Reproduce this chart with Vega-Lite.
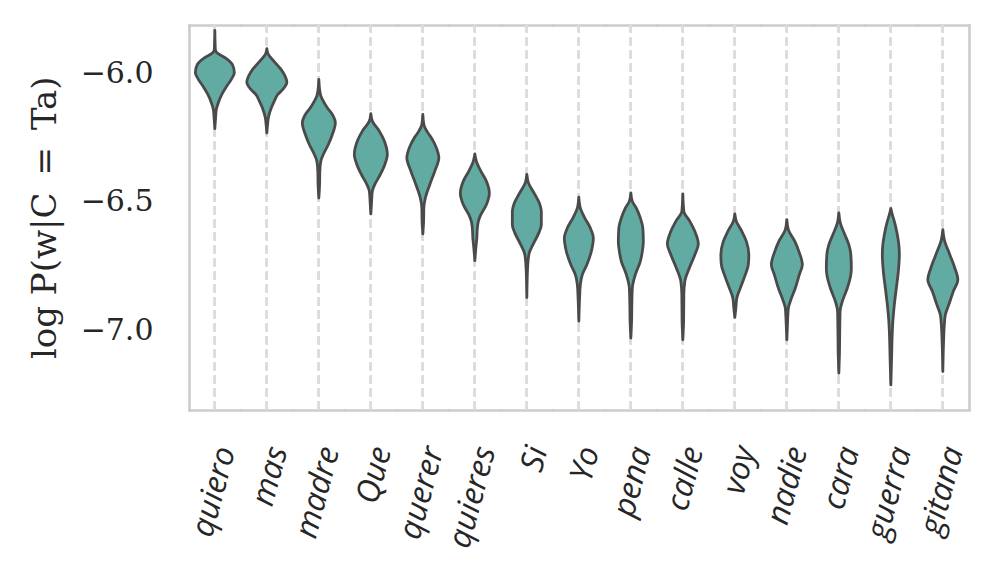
{
  "$schema": "https://vega.github.io/schema/vega-lite/v6.json",
  "padding": {"left": 28, "top": 23, "right": 5, "bottom": 5},
  "background": "white",
  "data": {"values": [
    {"word":"quiero","v":-5.831,"w":0},{"word":"quiero","v":-5.905,"w":1},{"word":"quiero","v":-5.918,"w":4},{"word":"quiero","v":-5.938,"w":21},{"word":"quiero","v":-5.964,"w":35},{"word":"quiero","v":-5.996,"w":39},{"word":"quiero","v":-6.022,"w":33},{"word":"quiero","v":-6.048,"w":24},{"word":"quiero","v":-6.081,"w":14},{"word":"quiero","v":-6.113,"w":7},{"word":"quiero","v":-6.139,"w":3},{"word":"quiero","v":-6.172,"w":1.5},{"word":"quiero","v":-6.214,"w":0},
    {"word":"mas","v":-5.902,"w":0},{"word":"mas","v":-5.925,"w":3},{"word":"mas","v":-5.951,"w":14},{"word":"mas","v":-5.990,"w":31},{"word":"mas","v":-6.033,"w":40},{"word":"mas","v":-6.061,"w":32},{"word":"mas","v":-6.081,"w":22},{"word":"mas","v":-6.107,"w":15},{"word":"mas","v":-6.133,"w":9},{"word":"mas","v":-6.172,"w":3},{"word":"mas","v":-6.198,"w":1.5},{"word":"mas","v":-6.231,"w":0},
    {"word":"madre","v":-6.022,"w":0},{"word":"madre","v":-6.061,"w":1.5},{"word":"madre","v":-6.087,"w":4},{"word":"madre","v":-6.107,"w":9},{"word":"madre","v":-6.133,"w":17},{"word":"madre","v":-6.159,"w":27},{"word":"madre","v":-6.192,"w":33},{"word":"madre","v":-6.237,"w":27},{"word":"madre","v":-6.276,"w":19},{"word":"madre","v":-6.315,"w":9},{"word":"madre","v":-6.341,"w":4},{"word":"madre","v":-6.380,"w":2},{"word":"madre","v":-6.432,"w":1.5},{"word":"madre","v":-6.485,"w":0},
    {"word":"Que","v":-6.156,"w":0},{"word":"Que","v":-6.185,"w":3},{"word":"Que","v":-6.224,"w":17},{"word":"Que","v":-6.263,"w":27},{"word":"Que","v":-6.315,"w":33},{"word":"Que","v":-6.354,"w":28},{"word":"Que","v":-6.393,"w":19},{"word":"Que","v":-6.432,"w":8},{"word":"Que","v":-6.458,"w":3},{"word":"Que","v":-6.498,"w":1.5},{"word":"Que","v":-6.547,"w":0},
    {"word":"querer","v":-6.159,"w":0},{"word":"querer","v":-6.198,"w":2},{"word":"querer","v":-6.224,"w":8},{"word":"querer","v":-6.250,"w":17},{"word":"querer","v":-6.289,"w":27},{"word":"querer","v":-6.328,"w":32},{"word":"querer","v":-6.380,"w":24},{"word":"querer","v":-6.432,"w":14},{"word":"querer","v":-6.485,"w":5},{"word":"querer","v":-6.524,"w":2},{"word":"querer","v":-6.576,"w":1.5},{"word":"querer","v":-6.625,"w":0},
    {"word":"quieres","v":-6.313,"w":0},{"word":"quieres","v":-6.341,"w":3},{"word":"quieres","v":-6.380,"w":12},{"word":"quieres","v":-6.419,"w":23},{"word":"quieres","v":-6.465,"w":29},{"word":"quieres","v":-6.511,"w":23},{"word":"quieres","v":-6.550,"w":12},{"word":"quieres","v":-6.576,"w":7},{"word":"quieres","v":-6.602,"w":5},{"word":"quieres","v":-6.641,"w":4},{"word":"quieres","v":-6.680,"w":2},{"word":"quieres","v":-6.729,"w":0},
    {"word":"Si","v":-6.393,"w":0},{"word":"Si","v":-6.425,"w":3},{"word":"Si","v":-6.471,"w":16},{"word":"Si","v":-6.504,"w":25},{"word":"Si","v":-6.537,"w":29},{"word":"Si","v":-6.589,"w":29},{"word":"Si","v":-6.621,"w":24},{"word":"Si","v":-6.660,"w":14},{"word":"Si","v":-6.706,"w":4},{"word":"Si","v":-6.758,"w":1.5},{"word":"Si","v":-6.873,"w":0},
    {"word":"Yo","v":-6.482,"w":0},{"word":"Yo","v":-6.524,"w":3},{"word":"Yo","v":-6.563,"w":12},{"word":"Yo","v":-6.602,"w":23},{"word":"Yo","v":-6.641,"w":29},{"word":"Yo","v":-6.693,"w":25},{"word":"Yo","v":-6.745,"w":16},{"word":"Yo","v":-6.784,"w":7},{"word":"Yo","v":-6.823,"w":3},{"word":"Yo","v":-6.875,"w":1.5},{"word":"Yo","v":-6.966,"w":0},
    {"word":"pena","v":-6.465,"w":0},{"word":"pena","v":-6.498,"w":3},{"word":"pena","v":-6.524,"w":11},{"word":"pena","v":-6.563,"w":19},{"word":"pena","v":-6.602,"w":24},{"word":"pena","v":-6.654,"w":25},{"word":"pena","v":-6.693,"w":23},{"word":"pena","v":-6.732,"w":19},{"word":"pena","v":-6.784,"w":9},{"word":"pena","v":-6.836,"w":3},{"word":"pena","v":-6.901,"w":2},{"word":"pena","v":-6.966,"w":1.5},{"word":"pena","v":-7.031,"w":0},
    {"word":"calle","v":-6.469,"w":0},{"word":"calle","v":-6.537,"w":2},{"word":"calle","v":-6.576,"w":14},{"word":"calle","v":-6.615,"w":24},{"word":"calle","v":-6.664,"w":31},{"word":"calle","v":-6.706,"w":24},{"word":"calle","v":-6.758,"w":13},{"word":"calle","v":-6.810,"w":4},{"word":"calle","v":-6.862,"w":2},{"word":"calle","v":-6.966,"w":1.5},{"word":"calle","v":-7.038,"w":0},
    {"word":"voy","v":-6.547,"w":0},{"word":"voy","v":-6.576,"w":3},{"word":"voy","v":-6.615,"w":14},{"word":"voy","v":-6.654,"w":23},{"word":"voy","v":-6.706,"w":28},{"word":"voy","v":-6.745,"w":27},{"word":"voy","v":-6.784,"w":21},{"word":"voy","v":-6.836,"w":11},{"word":"voy","v":-6.875,"w":4},{"word":"voy","v":-6.914,"w":2},{"word":"voy","v":-6.951,"w":0},
    {"word":"nadie","v":-6.569,"w":0},{"word":"nadie","v":-6.608,"w":3},{"word":"nadie","v":-6.654,"w":16},{"word":"nadie","v":-6.693,"w":24},{"word":"nadie","v":-6.745,"w":31},{"word":"nadie","v":-6.784,"w":25},{"word":"nadie","v":-6.836,"w":17},{"word":"nadie","v":-6.888,"w":7},{"word":"nadie","v":-6.914,"w":3},{"word":"nadie","v":-6.966,"w":1.5},{"word":"nadie","v":-7.038,"w":0},
    {"word":"cara","v":-6.543,"w":0},{"word":"cara","v":-6.583,"w":3},{"word":"cara","v":-6.628,"w":12},{"word":"cara","v":-6.667,"w":20},{"word":"cara","v":-6.706,"w":24},{"word":"cara","v":-6.758,"w":25},{"word":"cara","v":-6.784,"w":24},{"word":"cara","v":-6.836,"w":17},{"word":"cara","v":-6.888,"w":7},{"word":"cara","v":-6.927,"w":2.5},{"word":"cara","v":-7.005,"w":1.8},{"word":"cara","v":-7.096,"w":1.2},{"word":"cara","v":-7.168,"w":0},
    {"word":"guerra","v":-6.526,"w":0},{"word":"guerra","v":-6.550,"w":3},{"word":"guerra","v":-6.576,"w":7},{"word":"guerra","v":-6.628,"w":13},{"word":"guerra","v":-6.667,"w":16},{"word":"guerra","v":-6.706,"w":17},{"word":"guerra","v":-6.771,"w":15},{"word":"guerra","v":-6.836,"w":11},{"word":"guerra","v":-6.901,"w":7},{"word":"guerra","v":-6.966,"w":4},{"word":"guerra","v":-7.031,"w":2.5},{"word":"guerra","v":-7.109,"w":1.5},{"word":"guerra","v":-7.214,"w":0},
    {"word":"gitana","v":-6.608,"w":0},{"word":"gitana","v":-6.648,"w":3},{"word":"gitana","v":-6.706,"w":14},{"word":"gitana","v":-6.758,"w":24},{"word":"gitana","v":-6.804,"w":30},{"word":"gitana","v":-6.849,"w":21},{"word":"gitana","v":-6.901,"w":12},{"word":"gitana","v":-6.940,"w":5},{"word":"gitana","v":-6.979,"w":3},{"word":"gitana","v":-7.044,"w":1.5},{"word":"gitana","v":-7.162,"w":0}
  ]},
  "transform": [{"stack": "w", "groupby": ["word", "v"], "offset": "center", "as": ["x0", "x1"]}],
  "facet": {"column": {"field": "word", "type": "nominal", "title": null,
    "sort": ["quiero","mas","madre","Que","querer","quieres","Si","Yo","pena","calle","voy","nadie","cara","guerra","gitana"],
    "header": {"labels": false, "title": null}}},
  "spacing": 0,
  "bounds": "flush",
  "spec": {
    "width": 51.67,
    "height": 384.5,
    "layer": [
      {
        "mark": {"type": "rule", "color": "#dcdcdc", "strokeWidth": 2.2, "strokeDash": [8, 5]},
        "encoding": {
          "x": {"datum": 20, "type": "quantitative", "scale": {"domain": [-5.835, 45.835], "nice": false, "zero": false},
            "axis": {"orient": "top", "domain": true, "domainColor": "#cccccc", "domainWidth": 2.6, "domainCap": "square", "ticks": false, "labels": false, "grid": false, "title": null}},
          "y": {"datum": -7.31, "type": "quantitative",
            "axis": {"orient": "right", "domain": true, "domainColor": "#cccccc", "domainWidth": 2.6, "domainCap": "square", "ticks": false, "labels": false, "grid": false, "title": null}},
          "y2": {"datum": -5.81}
        }
      },
      {
        "mark": {"type": "area", "orient": "horizontal", "interpolate": "monotone", "fill": "#62aba3", "fillOpacity": 1, "stroke": "#4a4a4a", "strokeWidth": 2.8, "strokeJoin": "round"},
        "encoding": {
          "x": {"field": "x0", "type": "quantitative", "scale": {"domain": [-5.835, 45.835], "nice": false, "zero": false},
            "axis": {"orient": "bottom", "domain": true, "domainColor": "#cccccc", "domainWidth": 2.6, "domainCap": "square", "ticks": false, "labels": false, "grid": false, "title": null}},
          "x2": {"field": "x1"},
          "y": {"field": "v", "type": "quantitative", "scale": {"domain": [-7.31, -5.81], "nice": false, "zero": false},
            "axis": {"orient": "left", "values": [-7, -6.5, -6], "format": ".1f", "grid": false, "ticks": false,
              "domain": true, "domainColor": "#cccccc", "domainWidth": 2.6, "domainCap": "square",
              "labelFont": "DejaVu Serif", "labelFontSize": 30, "labelColor": "#262626", "labelPadding": 36,
              "title": "log P(w|C\u2002=\u2002Ta)", "titleFont": "DejaVu Serif", "titleFontSize": 34, "titleFontWeight": "normal", "titleColor": "#262626", "titlePadding": 18}}
        }
      },
      {
        "transform": [{"aggregate": [{"op": "count", "as": "n"}], "groupby": ["word"]}],
        "mark": {"type": "text", "angle": 285, "align": "right", "baseline": "middle", "font": "Open Sans", "fontStyle": "italic", "fontSize": 32, "color": "#262626"},
        "encoding": {
          "text": {"field": "word"},
          "x": {"datum": 31, "type": "quantitative", "axis": null},
          "y": {"datum": -7.458, "type": "quantitative", "axis": null}
        }
      }
    ]
  },
  "config": {"view": {"stroke": null}}
}
